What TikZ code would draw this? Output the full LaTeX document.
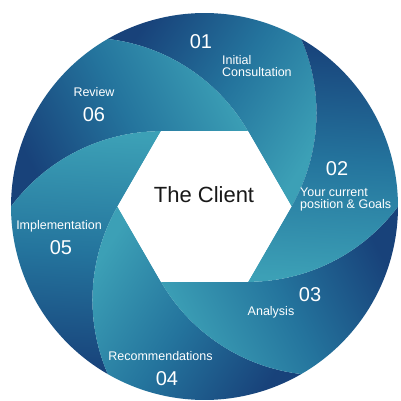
\documentclass[tikz,border=0pt]{standalone}
\usepackage{fontspec}
\setmainfont{Liberation Sans}
\definecolor{bl}{RGB}{60,160,182}
\definecolor{bm}{RGB}{36,116,157}
\definecolor{bd}{RGB}{24,66,122}
\definecolor{ink}{RGB}{25,25,25}
\begin{document}
\begin{tikzpicture}[x=1pt,y=1pt,
  lab/.style={text=white,font=\fontsize{12.5}{14}\selectfont,inner sep=0pt},
  num/.style={text=white,font=\fontsize{20}{22}\selectfont,inner sep=0pt},
  blade/.style={top color=bl,bottom color=bd,middle color=bm}]
\useasboundingbox (-204.5,-194.5) rectangle (195.5,206.5);
\fill[white] (-204.5,-194.5) rectangle (195.5,206.5);
\def\Ra{193.5}\def\ha{87}\def\rb{187}\def\sw{23.33}
\foreach \t in {0,60,...,300}{
  \pgfmathsetmacro\sa{\t-123}
  \shade[blade,shading angle=\sa]
    (\t:\ha) arc[start angle=\t-30,end angle=\t+\sw,radius=\rb]
    arc[start angle=\t+60,end angle=\t+120,radius=\Ra]
    arc[start angle=\t+60+\sw,end angle=\t+30,radius=\rb]
    -- cycle;
}
\fill[white] (0:\ha) -- (60:\ha) -- (120:\ha) -- (180:\ha) -- (240:\ha) -- (300:\ha) -- cycle;
\node[inner sep=0pt,anchor=base,text=ink,font=\fontsize{22}{24}\selectfont] (client) at (-0.5,4.2) {The Client};
\node[num,anchor=base] (n1) at (-3.5,158.2) {01};
\node[lab,anchor=base west] (l1a) at (17.5,142.2) {Initial};
\node[lab,anchor=base west] (l1b) at (17.5,129.8) {Consultation};
\node[num,anchor=base] (n2) at (132.5,30.8) {02};
\node[lab,anchor=base west] (l2a) at (95.5,9.8) {Your current};
\node[lab,anchor=base west] (l2b) at (95.5,-1.8) {position \& Goals};
\node[num,anchor=base] (n3) at (105.5,-94.5) {03};
\node[lab,anchor=base] (l3) at (66.5,-108.5) {Analysis};
\node[lab,anchor=base] (l4) at (-44,-153.5) {Recommendations};
\node[num,anchor=base] (n4) at (-37.5,-179.2) {04};
\node[lab,anchor=base] (l5) at (-145.5,-22.8) {Implementation};
\node[num,anchor=base] (n5) at (-143.5,-47.5) {05};
\node[lab,anchor=base] (l6) at (-110.5,109.8) {Review};
\node[num,anchor=base] (n6) at (-110.5,84.8) {06};
\end{tikzpicture}
\end{document}
